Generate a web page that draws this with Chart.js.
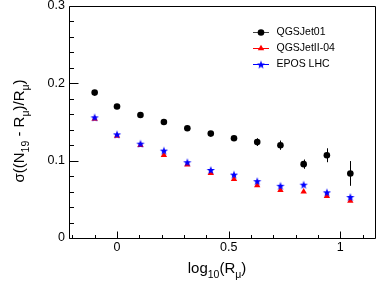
<!DOCTYPE html>
<html><head><meta charset="utf-8">
<script src="https://cdn.jsdelivr.net/npm/chart.js@4/dist/chart.umd.min.js"></script>
<style>html,body{margin:0;padding:0;background:#fff}canvas{display:block}</style>
</head><body>
<canvas id="c" width="382" height="287"></canvas>
<script>
// ---- data ----
const xValues      = [-0.1, 0.0, 0.105, 0.21, 0.315, 0.42, 0.524, 0.628, 0.732, 0.836, 0.94, 1.045];
const qgsjet01     = [0.188, 0.170, 0.159, 0.150, 0.142, 0.135, 0.129, 0.124, 0.120, 0.0955, 0.107, 0.0835];
const qgsjet01Err  = [0.002, 0.002, 0.002, 0.002, 0.002, 0.003, 0.003, 0.005, 0.006, 0.006, 0.009, 0.016];
const qgsjetII04   = [0.154, 0.132, 0.120, 0.107, 0.095, 0.084, 0.076, 0.068, 0.062, 0.060, 0.054, 0.048];
const qgsjetII04Err= [0.001, 0.001, 0.001, 0.001, 0.001, 0.001, 0.001, 0.001, 0.001, 0.001, 0.001, 0.001];
const eposLHC      = [0.156, 0.134, 0.122, 0.113, 0.098, 0.088, 0.082, 0.0735, 0.0675, 0.069, 0.059, 0.053];
const eposLHCErr   = [0.001, 0.001, 0.001, 0.001, 0.001, 0.001, 0.001, 0.001, 0.001, 0.001, 0.001, 0.001];
const seriesNames  = ['QGSJet01', 'QGSJetII-04', 'EPOS LHC'];
const xTickValues  = [0, 0.5, 1];
const yTickValues  = [0, 0.1, 0.2, 0.3];

const FONT = "'Liberation Sans', Arial, Helvetica, sans-serif";

function makeStar(r, color) {
  const s = 2 * Math.ceil(r) + 2;
  const c = document.createElement('canvas');
  c.width = s; c.height = s;
  const g = c.getContext('2d');
  g.fillStyle = color;
  g.beginPath();
  for (let i = 0; i < 10; i++) {
    const a = -Math.PI / 2 + i * Math.PI / 5;
    const rr = (i % 2) ? r * 0.42 : r;
    g.lineTo(s / 2 + rr * Math.cos(a), s / 2 + rr * Math.sin(a) + 0.4);
  }
  g.closePath();
  g.fill();
  return c;
}
const starImg = makeStar(4.3, '#0000ff');

function pts(ys) { return xValues.map((x, i) => ({x: x, y: ys[i]})); }

const datasets = [
  {label: seriesNames[0], data: pts(qgsjet01), errors: qgsjet01Err, showLine: false,
   pointStyle: 'circle', pointRadius: 3.3, backgroundColor: '#000000', borderColor: '#000000', borderWidth: 0, order: 0, legendLine: '#444444'},
  {label: seriesNames[1], data: pts(qgsjetII04), errors: qgsjetII04Err, showLine: false,
   pointStyle: 'triangle', pointRadius: 3.7, backgroundColor: '#ff0000', borderColor: '#ff0000', borderWidth: 0, order: 2, legendLine: '#ff0000'},
  {label: seriesNames[2], data: pts(eposLHC), errors: eposLHCErr, showLine: false,
   pointStyle: starImg, pointRadius: 4, backgroundColor: '#0000ff', borderColor: '#0000ff', borderWidth: 0, order: 1, legendLine: '#0000ff'}
];

function drawRich(ctx, parts, mainSize, subSize, subShift) {
  let w = 0;
  for (const p of parts) {
    ctx.font = (p.sub ? subSize : mainSize) + 'px ' + FONT;
    w += ctx.measureText(p.t).width;
  }
  let x = -w / 2;
  for (const p of parts) {
    ctx.font = (p.sub ? subSize : mainSize) + 'px ' + FONT;
    ctx.fillText(p.t, x, p.sub ? subShift : 0);
    x += ctx.measureText(p.t).width;
  }
}

const rootPlugin = {
  id: 'rootStyle',
  beforeDatasetsDraw(chart) {
    const ctx = chart.ctx, xs = chart.scales.x, ys = chart.scales.y;
    ctx.save();
    chart.data.datasets.forEach(ds => {
      ctx.strokeStyle = ds.borderColor;
      ctx.lineWidth = 1;
      ds.data.forEach((p, i) => {
        const e = ds.errors[i];
        const px = Math.round(xs.getPixelForValue(p.x)) + 0.5;
        ctx.beginPath();
        ctx.moveTo(px, ys.getPixelForValue(p.y - e));
        ctx.lineTo(px, ys.getPixelForValue(p.y + e));
        ctx.stroke();
      });
    });
    ctx.restore();
  },
  afterDraw(chart) {
    const ctx = chart.ctx, a = chart.chartArea, xs = chart.scales.x, ys = chart.scales.y;
    ctx.save();
    ctx.strokeStyle = '#000';
    ctx.lineWidth = 1;
    const L = Math.round(a.left) + 0.5, R = Math.round(a.right) - 0.5;
    const T = Math.round(a.top) + 0.5, B = Math.round(a.bottom) + 0.5;
    ctx.beginPath();
    ctx.moveTo(L, T); ctx.lineTo(R, T); ctx.lineTo(R, B); ctx.lineTo(L, B); ctx.closePath();
    ctx.stroke();
    // y ticks (inside)
    ctx.beginPath();
    for (let k = 0; k <= 15; k++) {
      const v = k * 0.02;
      const py = Math.round(ys.getPixelForValue(v)) + 0.5;
      const len = (k % 5 === 0) ? 9 : 4.5;
      ctx.moveTo(L, py); ctx.lineTo(L + len, py);
    }
    // x ticks (inside)
    for (let k = -2; k <= 11; k++) {
      const v = k * 0.1;
      const px = Math.round(xs.getPixelForValue(v)) + 0.5;
      const len = (k % 5 === 0) ? 7 : 3.5;
      ctx.moveTo(px, B); ctx.lineTo(px, B - len);
    }
    ctx.stroke();

    // axis titles
    ctx.fillStyle = '#000';
    ctx.textBaseline = 'alphabetic';
    ctx.textAlign = 'left';
    ctx.save();
    ctx.translate(217, 272.5);
    drawRich(ctx, [{t: 'log'}, {t: '10', sub: true}, {t: '(R'}, {t: 'μ', sub: true}, {t: ')'}], 15, 10.5, 5.5);
    ctx.restore();
    ctx.save();
    ctx.translate(23.5, 131);
    ctx.rotate(-Math.PI / 2);
    drawRich(ctx, [{t: 'σ((N'}, {t: '19', sub: true}, {t: ' - R'}, {t: 'μ', sub: true}, {t: ')/R'}, {t: 'μ', sub: true}, {t: ')'}], 15, 10.5, 5.5);
    ctx.restore();

    // legend
    const rows = [31.5, 48, 64];
    chart.data.datasets.forEach((ds, i) => {
      const y = Math.round(rows[i]) + 0.5;
      ctx.strokeStyle = ds.legendLine;
      ctx.lineWidth = 1;
      ctx.beginPath();
      ctx.moveTo(253, y); ctx.lineTo(269, y);
      ctx.stroke();
      ctx.fillStyle = ds.backgroundColor;
      ctx.strokeStyle = ds.backgroundColor;
      Chart.helpers.drawPoint(ctx, {pointStyle: ds.pointStyle, radius: ds.pointRadius, borderWidth: 0, rotation: 0}, 261, y);
      ctx.fillStyle = '#000';
      ctx.font = '10.5px ' + FONT;
      ctx.textBaseline = 'middle';
      ctx.fillText(ds.label, 276.5, y);
    });
    ctx.restore();
  }
};

new Chart(document.getElementById('c'), {
  type: 'scatter',
  data: {datasets: datasets},
  options: {
    responsive: false,
    devicePixelRatio: 1,
    animation: false,
    events: [],
    layout: {padding: {top: 6, right: 6, left: 0, bottom: 0}},
    plugins: {legend: {display: false}, tooltip: {enabled: false}, title: {display: false}},
    scales: {
      x: {
        type: 'linear', min: -0.215, max: 1.16,
        grid: {display: false, drawTicks: false},
        border: {display: false},
        afterBuildTicks: s => { s.ticks = xTickValues.map(v => ({value: v})); },
        afterFit: s => { s.height = 49; s.paddingLeft = 0; s.paddingRight = 0; },
        ticks: {padding: 2, color: '#000', font: {family: FONT, size: 12.5},
                callback: v => (v === 0 ? '0' : (v === 1 ? '1' : String(v)))}
      },
      y: {
        type: 'linear', min: 0, max: 0.3,
        grid: {display: false, drawTicks: false},
        border: {display: false},
        afterBuildTicks: s => { s.ticks = yTickValues.map(v => ({value: v})); },
        afterFit: s => { s.width = 69; s.paddingTop = 0; s.paddingBottom = 0; },
        ticks: {padding: 4, color: '#000', font: {family: FONT, size: 12.5},
                callback: v => (v === 0 ? '0' : v.toFixed(1))}
      }
    }
  },
  plugins: [rootPlugin]
});
</script>
</body></html>
